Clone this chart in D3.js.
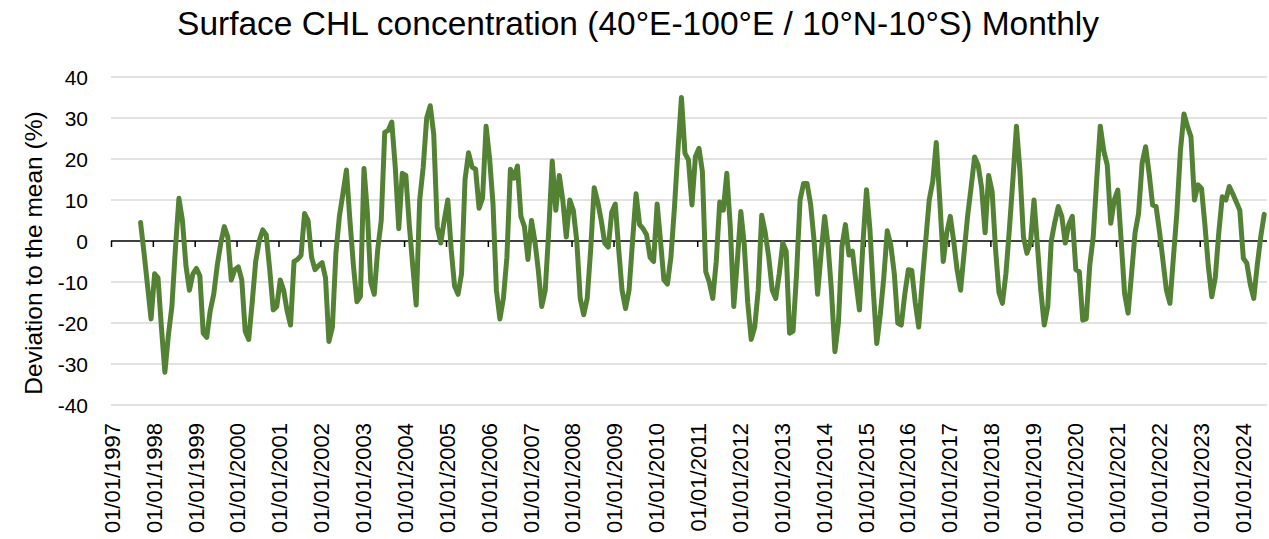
<!DOCTYPE html>
<html>
<head>
<meta charset="utf-8">
<script src="https://cdn.jsdelivr.net/npm/d3@7"></script>
<style>
  body { margin: 0; background: #fff; }
  svg { display: block; }
  text { font-family: "Liberation Sans", Arial, sans-serif; fill: #000; }
</style>
</head>
<body>
<svg id="chart"></svg>
<script>
// data: monthly deviation to the mean (%), starting Sep 1997
const firstMonth = [1997, 8]; // year, month index (0 = Jan)
const values = [
  4.5, -3, -11, -19,                                             // 1997 Sep-Dec
  -8, -9, -21, -32, -23, -16, -2, 10.4, 5, -6, -12, -8,          // 1998
  -6.7, -8.5, -22.5, -23.5, -17, -13, -6, -0.5, 3.5, 1, -9.5, -7, // 1999
  -6.3, -9.5, -22, -24, -15, -5, 0, 2.7, 1.5, -7, -16.8, -16,    // 2000
  -9.5, -12, -17, -20.5, -5, -4.5, -3.5, 6.7, 5, -4, -7, -6,     // 2001
  -5.3, -9, -24.5, -21, -3, 6, 11.5, 17.3, 5, -6, -14.8, -13.5,  // 2002
  17.7, 7, -10, -13, -2, 5, 26.5, 27, 29, 18, 3, 16.5,           // 2003
  16, 4, -6, -15.6, 10, 18, 30, 33, 26, 3.5, -0.5, 5,            // 2004
  10, -2, -11, -13, -8, 15, 21.5, 18, 17.5, 8, 10.5, 28,         // 2005
  20, 9, -12, -19, -14, -4, 17.5, 15.3, 18.3, 6, 3.5, -4.5,      // 2006
  5, 0, -7, -16, -12, 2.5, 19.5, 7.5, 16, 10, 1, 10,             // 2007
  7.5, 0, -14, -18, -14, -2, 13, 9.5, 5, -0.5, -1.5, 7,          // 2008
  9, -2, -12, -16.5, -12, 0, 11.5, 4, 3, 1.5, -4, -5,            // 2009
  9, 0, -9.5, -10.5, -4, 8, 22, 35, 21.4, 19.8, 8.8, 20.6,       // 2010
  22.6, 17, -7.5, -10, -14, -5, 9.5, 7.5, 16.5, 3.5, -16, -5,    // 2011
  7.2, -1, -15, -24, -21, -12, 6.3, 2, -4, -12, -14, -8,         // 2012
  -0.5, -2.5, -22.5, -22, -8, 10, 14, 14, 9, 0, -13, -3,         // 2013
  6, -1, -12, -27, -20, -1.4, 4, -3.4, -2.5, -10, -16.8, -0.6,   // 2014
  12.5, 3, -12, -25, -18, -9, 2.5, -1, -8, -20, -20.5, -13,      // 2015
  -7, -7.2, -15, -21, -10, 0, 10, 14.5, 24, 10, -5, 2,           // 2016
  6, 0, -7, -12, -3, 6, 13, 20.5, 18.5, 13, 2, 16,               // 2017
  12, -2, -12.5, -15.2, -8, 3, 15, 28, 17, 1, -3, -0.5,          // 2018
  10, -1, -12, -20.5, -16, 0, 4.5, 8.4, 6, -0.5, 4, 6,           // 2019
  -7, -7.5, -19.3, -19, -6, 1, 15, 28, 22, 18.5, 4.3, 10,        // 2020
  12.4, 0, -12.8, -17.6, -8, 2, 6.7, 19, 23, 16.5, 8.8, 8.4,     // 2021
  2, -5, -12, -15.2, -4, 7, 22, 31, 28, 25.4, 10, 13.7,          // 2022
  12.8, 4, -6, -13.6, -9, 2, 10.8, 10, 13.3, 11.5, 9.5, 7.5,     // 2023
  -4.2, -5.4, -10.5, -14, -6, 1, 6.5                              // 2024 Jan-Jul
];
const yTicks = [-40, -30, -20, -10, 0, 10, 20, 30, 40];
const tickYears = d3.range(1997, 2025);

const titleText = "Surface CHL concentration (40°E-100°E / 10°N-10°S) Monthly";
const yTitle = "Deviation to the mean (%)";

const width = 1269;
const height = 539;
const plot = {left: 111, right: 1266, top: 77, bottom: 405};

const svg = d3.select('#chart')
    .attr('width', width)
    .attr('height', height);

const data = values.map(function(v, i) {
  return {date: new Date(Date.UTC(firstMonth[0], firstMonth[1] + i, 1)), value: v};
});

const x = d3.scaleUtc()
    .domain([new Date(Date.UTC(1997, 0, 1)), new Date(Date.UTC(2024, 7, 1))])
    .range([plot.left, plot.right]);

const y = d3.scaleLinear()
    .domain([-40, 40])
    .range([plot.bottom, plot.top]);

// point sits in the middle of its month slot
function xMid(d) {
  return (x(d) + x(d3.utcMonth.offset(d, 1))) / 2;
}

// gridlines
svg.append('g')
    .selectAll('line')
    .data(yTicks.filter(t => t !== 0))
    .join('line')
    .attr('x1', plot.left)
    .attr('x2', plot.right + 1)
    .attr('y1', d => y(d))
    .attr('y2', d => y(d))
    .attr('stroke', '#d9d9d9')
    .attr('stroke-width', 1.3);

// y tick labels
svg.append('g')
    .selectAll('text')
    .data(yTicks)
    .join('text')
    .attr('x', 88)
    .attr('y', d => y(d))
    .attr('dy', '0.36em')
    .attr('text-anchor', 'end')
    .style('font-size', '21px')
    .text(d => d);

// x axis at zero, ticks hanging below
const tickDates = tickYears.map(yr => new Date(Date.UTC(yr, 0, 1)));
const xAxis = svg.append('g')
    .attr('transform', 'translate(0,' + y(0) + ')')
    .call(d3.axisBottom(x).tickValues(tickDates).tickSize(6).tickSizeOuter(0).tickFormat(''));
xAxis.select('.domain')
    .attr('d', 'M' + plot.left + ',0H' + (plot.right + 1))
    .attr('stroke', '#000')
    .attr('stroke-width', 1.5);
xAxis.selectAll('.tick line')
    .attr('stroke', '#000')
    .attr('stroke-width', 1.5);

// x tick labels at the bottom, rotated
const fmt = d3.utcFormat('%d/%m/%Y');
svg.append('g')
    .selectAll('text')
    .data(tickDates)
    .join('text')
    .attr('transform', d => 'translate(' + (x(d) + 1) + ',423)rotate(-90)')
    .attr('dy', '0.36em')
    .attr('text-anchor', 'end')
    .style('font-size', '22px')
    .text(d => fmt(d));

// series line
const line = d3.line()
    .x(d => xMid(d.date))
    .y(d => y(d.value));

svg.append('path')
    .datum(data)
    .attr('d', line)
    .attr('fill', 'none')
    .attr('stroke', '#548235')
    .attr('stroke-width', 5)
    .attr('stroke-linejoin', 'round')
    .attr('stroke-linecap', 'round');

// titles
svg.append('text')
    .attr('x', 638)
    .attr('y', 35)
    .attr('text-anchor', 'middle')
    .style('font-size', '33.5px')
    .text(titleText);

svg.append('text')
    .attr('transform', 'translate(33,253)rotate(-90)')
    .attr('dy', '0.36em')
    .attr('text-anchor', 'middle')
    .style('font-size', '24.5px')
    .text(yTitle);
</script>
</body>
</html>
